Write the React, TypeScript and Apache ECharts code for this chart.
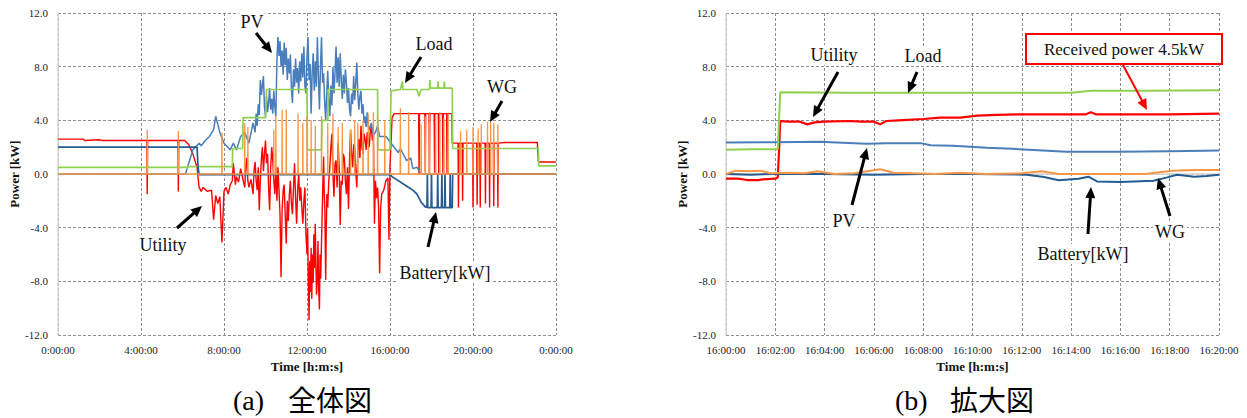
import React, { useEffect, useRef } from "react";
import * as echarts from "echarts";

// ---------- (a) whole day, x in hours ----------
const LEFT_X_TICKS = [0, 4, 8, 12, 16, 20, 24];
const Y_TICKS = [-12, -8, -4, 0, 4, 8, 12];

const LEFT_UTILITY: number[][] = [
  [0, 2.6], [1.2, 2.6], [1.3, 2.5], [2.0, 2.55], [2.1, 2.5], [4.28, 2.5], [4.3, -1.5], [4.32, 2.5],
  [5.78, 2.5], [5.8, -1.3], [5.82, 2.5], [6.1, 2.5], [6.3, 2.2], [6.5, 1.5], [6.7, 0.5], [6.8, -1.0],
  [6.9, -1.3], [7.0, -1.0], [7.2, -1.3], [7.4, -1.2], [7.5, -3.4], [7.6, -1.6], [7.7, -2.2], [7.8, -1.7],
  [7.9, -5.1], [8.0, -1.3], [8.1, -1.0], [8.2, -1.5], [8.3, -0.8], [8.4, -0.5], [8.45, 0.8], [8.5, 0.0],
  [8.55, -0.8], [8.6, -0.2], [8.7, -0.6], [8.8, 0.4], [8.9, -0.3], [9.0, -1.0], [9.05, 0.5], [9.1, 1.2],
  [9.15, -0.5], [9.2, -1.0], [9.3, -0.4], [9.4, -1.5], [9.45, 0.3], [9.5, 0.9], [9.55, -0.5], [9.6, -1.2],
  [9.65, 0.5], [9.7, -2.7], [9.75, -0.5], [9.8, 1.1], [9.85, 2.0], [9.9, 0.2], [9.95, 1.5], [10.0, 2.5],
  [10.05, 0.8], [10.1, 1.5], [10.15, -1.0], [10.2, -2.7], [10.25, 0.5], [10.3, 2.0], [10.35, 1.0],
  [10.4, -0.5], [10.45, -1.5], [10.5, 0.5], [10.55, -2.0], [10.6, 0.5], [10.65, -1.2], [10.7, -3.0],
  [10.75, -7.7], [10.8, -2.7], [10.85, -1.2], [10.9, -0.8], [10.95, -3.0], [11.0, -5.2], [11.05, -2.0],
  [11.1, -3.5], [11.15, -1.5], [11.2, -0.5], [11.25, -2.2], [11.3, -3.0], [11.35, -1.0], [11.4, 0.8],
  [11.45, -1.8], [11.5, -3.7], [11.55, -1.2], [11.6, 0.0], [11.65, -2.0], [11.7, -1.0], [11.75, -2.5],
  [11.8, -3.7], [11.85, -2.0], [11.9, -1.0], [11.95, -4.5], [12.0, -6.0], [12.03, -4.0], [12.06, -7.5],
  [12.1, -10.9], [12.13, -6.5], [12.16, -8.8], [12.2, -5.5], [12.23, -9.3], [12.26, -6.0], [12.3, -8.1],
  [12.33, -4.5], [12.36, -7.0], [12.4, -3.7], [12.43, -6.8], [12.46, -9.0], [12.5, -7.6], [12.53, -5.0],
  [12.56, -8.5], [12.6, -10.1], [12.63, -6.0], [12.66, -7.8], [12.7, -5.0], [12.73, -3.0], [12.76, -1.0],
  [12.8, 1.3], [12.83, -1.5], [12.86, -2.6], [12.9, -7.9], [12.93, -4.0], [12.96, -1.5], [13.0, -2.5],
  [13.05, -0.5], [13.1, 0.5], [13.15, 2.0], [13.2, 3.0], [13.25, 0.0], [13.3, -1.7], [13.35, 0.8],
  [13.4, 1.0], [13.45, -1.0], [13.5, 2.3], [13.55, 0.5], [13.6, -3.8], [13.65, -0.5], [13.7, -0.8],
  [13.75, 1.5], [13.8, 1.2], [13.85, -0.5], [13.9, -1.5], [13.95, 0.5], [14.0, -2.6], [14.05, 1.0],
  [14.1, 3.3], [14.15, 1.5], [14.2, 0.5], [14.25, 2.2], [14.3, 2.0], [14.35, 0.2], [14.4, -1.0],
  [14.45, 1.8], [14.5, 2.6], [14.55, 1.2], [14.6, 3.6], [14.65, 2.0], [14.7, 1.5], [14.75, 3.0],
  [14.8, 2.6], [14.85, 1.8], [14.9, 3.1], [14.95, 2.3], [15.0, 2.0], [15.05, 3.2], [15.1, 3.5],
  [15.15, 2.5], [15.2, 3.3], [15.25, -3.7], [15.3, -0.5], [15.35, -1.8], [15.4, -1.0], [15.45, -2.5],
  [15.5, -7.4], [15.55, -2.5], [15.6, -1.5], [15.7, -1.2], [15.8, -0.5], [15.9, -0.3], [15.95, -4.9],
  [16.0, 0.6], [16.1, 4.2], [16.2, 4.5], [17.38, 4.5], [17.4, 0.0], [17.42, 4.5], [17.68, 4.5], [17.7, 0.2],
  [17.72, 4.5], [17.88, 4.5], [17.9, 0.0], [17.92, 4.5], [18.13, 4.5], [18.15, 0.1], [18.17, 4.5],
  [18.33, 4.5], [18.35, 0.0], [18.37, 4.5], [18.53, 4.5], [18.55, 0.1], [18.57, 4.5], [18.73, 4.5],
  [18.75, 0.0], [18.77, 4.5], [18.98, 4.5], [19.0, 2.3], [19.28, 2.3], [19.3, -2.5], [19.32, 2.3],
  [19.48, 2.3], [19.5, -2.0], [19.52, 2.3], [19.98, 2.3], [20.0, -2.5], [20.02, 2.3], [20.18, 2.3],
  [20.2, -2.3], [20.22, 2.3], [20.33, 2.3], [20.35, -2.5], [20.37, 2.3], [20.58, 2.3], [20.6, -2.2],
  [20.62, 2.3], [20.78, 2.3], [20.8, -2.5], [20.82, 2.3], [20.98, 2.3], [21.0, -2.4], [21.02, 2.3],
  [21.18, 2.3], [21.2, -2.5], [21.22, 2.3], [21.5, 2.35], [23.1, 2.35], [23.15, 0.9], [24, 0.9],
];

const LEFT_PV: number[][] = [
  [0, 0], [6.15, 0], [6.2, 0.3], [6.5, 1.8], [6.8, 2.3], [6.9, 2.1], [7.1, 2.5], [7.3, 2.8], [7.5, 3.3],
  [7.6, 4.3], [7.8, 3.1], [8.0, 2.3], [8.3, 1.8], [8.45, 2.3], [8.6, 1.8], [8.8, 2.8], [9.0, 3.1],
  [9.2, 2.3], [9.4, 3.8], [9.5, 3.1], [9.55, 4.5], [9.6, 3.6], [9.65, 5.2], [9.7, 4.4], [9.75, 7.0],
  [9.8, 5.9], [9.85, 6.6], [9.9, 7.3], [9.95, 5.0], [10.0, 4.3], [10.05, 5.8], [10.1, 4.6], [10.15, 5.3],
  [10.2, 6.4], [10.25, 4.8], [10.3, 5.6], [10.35, 4.5], [10.4, 6.2], [10.45, 5.0], [10.5, 4.3],
  [10.55, 8.5], [10.6, 10.2], [10.65, 8.8], [10.7, 9.9], [10.75, 8.0], [10.8, 9.2], [10.85, 7.4],
  [10.9, 9.8], [10.95, 8.1], [11.0, 9.4], [11.05, 7.0], [11.1, 8.6], [11.15, 7.5], [11.2, 8.9],
  [11.25, 6.3], [11.3, 5.3], [11.35, 7.8], [11.4, 6.5], [11.45, 8.6], [11.5, 6.8], [11.55, 7.9],
  [11.6, 6.0], [11.65, 8.4], [11.7, 6.9], [11.75, 9.0], [11.8, 7.2], [11.85, 9.5], [11.9, 6.5],
  [11.95, 6.0], [12.0, 8.8], [12.05, 10.2], [12.1, 7.0], [12.15, 8.2], [12.2, 4.5], [12.25, 7.6],
  [12.3, 9.0], [12.35, 6.2], [12.4, 8.4], [12.45, 6.5], [12.5, 10.2], [12.55, 7.3], [12.6, 4.8],
  [12.65, 8.0], [12.7, 10.2], [12.75, 6.8], [12.8, 7.5], [12.85, 5.4], [12.9, 4.0], [12.95, 6.0],
  [13.0, 7.7], [13.05, 5.5], [13.1, 4.3], [13.15, 6.6], [13.2, 5.1], [13.25, 8.0], [13.3, 6.0],
  [13.35, 7.5], [13.4, 9.5], [13.45, 6.8], [13.5, 8.7], [13.55, 6.5], [13.6, 9.0], [13.65, 7.0],
  [13.7, 5.6], [13.75, 7.4], [13.8, 6.0], [13.85, 7.8], [13.9, 6.8], [13.95, 5.3], [14.0, 6.4],
  [14.05, 4.8], [14.1, 4.3], [14.15, 6.0], [14.2, 5.2], [14.25, 7.3], [14.3, 5.5], [14.35, 6.8],
  [14.4, 8.3], [14.45, 6.0], [14.5, 4.8], [14.55, 5.8], [14.6, 6.2], [14.65, 4.5], [14.7, 5.2],
  [14.75, 3.8], [14.8, 4.3], [14.85, 3.5], [14.9, 4.6], [14.95, 3.6], [15.0, 3.3], [15.1, 3.8],
  [15.2, 2.9], [15.3, 3.1], [15.4, 3.6], [15.5, 2.8], [15.8, 2.8], [16.0, 2.4], [16.2, 2.0],
  [16.4, 1.6], [16.5, 1.9], [16.8, 1.0], [17.0, 1.2], [17.1, 0.4], [17.3, 0.5], [17.5, 0.0], [24, 0],
];

const LEFT_LOAD: number[][] = [
  [0, 0.5], [6.2, 0.5], [6.22, 0.4], [6.25, 0.55], [8.4, 0.55], [8.42, 1.9], [8.9, 1.9], [8.92, 4.2],
  [10.0, 4.2], [10.05, 6.3], [12.0, 6.3], [12.02, 1.8], [12.7, 1.8], [12.72, 4.0], [13.0, 4.0],
  [13.02, 6.3], [15.4, 6.3], [15.42, 1.8], [16.0, 1.8], [16.05, 6.2], [16.5, 6.3], [16.6, 6.9],
  [16.62, 6.3], [17.3, 6.3], [17.4, 5.8], [17.5, 6.3], [17.9, 6.3], [17.92, 7.0], [17.94, 6.4],
  [18.3, 6.4], [18.32, 6.9], [18.34, 6.4], [18.6, 6.4], [18.62, 6.9], [18.64, 6.4], [19.0, 6.4],
  [19.02, 1.9], [23.15, 1.9], [23.17, 0.6], [24, 0.6],
];

const LEFT_BATTERY: number[][] = [
  [0, 2.0], [6.7, 2.0], [6.75, 0.5], [6.8, -0.05], [16.0, -0.05], [16.1, -0.2], [16.3, -0.4],
  [16.5, -0.6], [16.7, -0.8], [16.9, -1.0], [17.1, -1.2], [17.3, -1.5], [17.5, -2.1], [17.7, -2.45],
  [17.78, -2.5], [17.8, 0.0], [17.82, -2.5], [17.98, -2.5], [18.0, 0.0], [18.02, -2.5], [18.28, -2.5],
  [18.3, 0.0], [18.32, -2.5], [18.48, -2.5], [18.5, 0.0], [18.52, -2.5], [18.63, -2.5], [18.65, 0.0],
  [18.67, -2.5], [18.88, -2.5], [18.9, 0.0], [18.92, -2.5], [19.0, -2.5], [19.02, 0.0], [24, 0.0],
];

// [hour, peak] of the wind generator spikes
const LEFT_WG_SPIKES: number[][] = [
  [4.3, 3.3], [5.8, 3.2], [7.9, 3.1], [9.0, 3.8], [9.15, 3.5], [10.4, 3.3], [10.5, 4.3], [10.8, 4.8],
  [11.0, 4.8], [11.57, 4.5], [11.8, 3.8], [12.0, 4.3], [12.2, 4.0], [12.4, 3.6], [12.7, 4.3],
  [13.0, 3.8], [13.25, 4.5], [13.5, 3.5], [13.7, 3.8], [14.1, 3.3], [14.3, 4.0], [14.45, 3.8],
  [14.7, 4.0], [14.95, 4.5], [15.2, 4.6], [15.4, 4.5], [15.75, 4.0], [16.5, 4.9], [16.9, 4.6],
  [17.5, 3.7], [17.7, 4.3], [17.9, 4.6], [18.2, 4.4], [18.4, 4.6], [18.6, 4.2], [18.8, 4.5],
  [19.4, 3.2], [19.7, 3.3], [20.0, 3.5], [20.25, 3.4], [20.4, 3.7], [20.7, 3.9], [20.85, 3.9],
  [21.0, 3.8], [21.2, 3.7],
];

// ---------- (b) zoom 16:00-16:20, x in minutes ----------
const RIGHT_X_TICKS = [0, 2, 4, 6, 8, 10, 12, 14, 16, 18, 20];

const RIGHT_UTILITY: number[][] = [
  [0, -0.35], [0.5, -0.35], [0.85, -0.45], [1.3, -0.45], [1.5, -0.4], [2.0, -0.35], [2.1, -0.25],
  [2.15, 1.7], [2.2, 3.95], [2.5, 3.9], [3.0, 3.9], [3.3, 3.7], [3.6, 3.85], [4.0, 3.9], [5.0, 3.95],
  [5.5, 3.9], [6.0, 3.9], [6.25, 3.7], [6.5, 3.95], [7.0, 4.0], [8.0, 4.1], [8.7, 4.2], [9.5, 4.2],
  [10.2, 4.35], [11.0, 4.4], [11.8, 4.45], [13.0, 4.45], [14.6, 4.45], [14.8, 4.6], [15.0, 4.45],
  [17.0, 4.45], [18.0, 4.45], [20.0, 4.5],
];

const RIGHT_PV: number[][] = [
  [0, 2.35], [2.0, 2.37], [3.8, 2.4], [5.2, 2.3], [5.7, 2.25], [6.5, 2.3], [7.9, 2.3], [8.3, 2.15],
  [9.2, 2.1], [10.6, 1.95], [11.9, 1.85], [13.8, 1.65], [16.0, 1.65], [18.0, 1.7], [20.0, 1.75],
];

const RIGHT_LOAD: number[][] = [
  [0, 1.8], [1.0, 1.85], [2.1, 1.85], [2.2, 6.1], [5.0, 6.05], [8.0, 6.05], [11.0, 6.05],
  [14.0, 6.05], [14.8, 6.2], [17.0, 6.2], [20.0, 6.25],
];

const RIGHT_BATTERY: number[][] = [
  [0, 0.0], [1.0, -0.05], [2.0, 0.0], [4.0, 0.0], [6.0, -0.05], [8.0, 0.0], [10.0, 0.0],
  [12.2, -0.05], [12.9, -0.23], [13.5, -0.47], [14.3, -0.35], [14.7, -0.2], [15.05, -0.55],
  [16.0, -0.6], [17.35, -0.5], [17.9, -0.25], [18.3, -0.05], [19.0, -0.2], [19.5, -0.15], [20.0, -0.05],
];

const RIGHT_WG: number[][] = [
  [0, 0.0], [0.4, 0.25], [1.0, 0.2], [1.4, 0.25], [1.8, 0.05], [2.5, 0.1], [3.2, 0.05], [3.7, 0.2],
  [4.4, 0.0], [5.2, 0.05], [6.25, 0.35], [6.8, 0.1], [7.6, 0.05], [8.5, 0.0], [9.5, 0.1],
  [10.5, 0.0], [12.0, 0.05], [12.8, 0.2], [13.5, 0.0], [15.0, 0.0], [17.0, 0.0], [18.1, 0.25],
  [19.0, 0.3], [20.0, 0.3],
];

const C_PV = "#4a7ebb";
const C_LOAD = "#8fd14f";
const C_UTIL = "#ff0000";
const C_BATT = "#245b92";
const C_WG = "#f79646";

const SERIF = "Liberation Serif, Times New Roman, serif";
const CJK = "Noto Sans CJK JP, sans-serif";

function spikeLine(spikes: number[][], end: number): number[][] {
  const out: number[][] = [[0, 0]];
  spikes.forEach(([h, up]) => {
    out.push([h - 0.01, 0], [h, up], [h + 0.01, 0]);
  });
  out.push([end, 0]);
  return out;
}

function arrow(x1: number, y1: number, x2: number, y2: number, color = "#000", w = 3) {
  const dx = x2 - x1, dy = y2 - y1;
  const len = Math.sqrt(dx * dx + dy * dy);
  const ux = dx / len, uy = dy / len;
  const hl = 11, hw = 5;
  const bx = x2 - ux * hl, by = y2 - uy * hl;
  return [
    { type: "line", z: 100, shape: { x1, y1, x2: bx + ux * 2, y2: by + uy * 2 }, style: { stroke: color, lineWidth: w } },
    {
      type: "polygon", z: 100,
      shape: { points: [[x2, y2], [bx - uy * hw, by + ux * hw], [bx + uy * hw, by - ux * hw]] },
      style: { fill: color },
    },
  ];
}

function label(text: string, x: number, y: number, size = 18) {
  return {
    type: "text", z: 101, x, y,
    style: {
      text, fill: "#111", font: `${size}px ${SERIF}`, align: "center", verticalAlign: "middle",
      backgroundColor: "#fff", padding: [1, 2],
    },
  };
}

function lineSeries(name: string, data: number[][], color: string, idx: number, width: number) {
  return {
    name, type: "line", data, xAxisIndex: idx, yAxisIndex: idx, showSymbol: false, symbol: "none",
    lineStyle: { color, width }, itemStyle: { color }, silent: true,
  };
}

export default function App() {
  const ref = useRef<HTMLDivElement>(null);
  useEffect(() => {
    document.body.style.margin = "0";
    const chart = echarts.init(ref.current!, undefined, { renderer: "svg" });
    const axisLabel = { color: "#222", fontSize: 11, fontFamily: SERIF };
    const splitLine = { show: true, lineStyle: { color: "#8c8c8c", type: [3, 2] as any, width: 1 } };
    const axisLine = { show: true, lineStyle: { color: "#d9d9d9", width: 1.5 } };
    const nameStyle = { fontFamily: SERIF, fontWeight: "bold" as const, fontSize: 13, color: "#111" };
    const yAxis = (gi: number) => ({
      type: "value", gridIndex: gi, min: Y_TICKS[0], max: Y_TICKS[Y_TICKS.length - 1], interval: 4,
      axisLabel: { ...axisLabel, formatter: (v: number) => v.toFixed(1), margin: 10 },
      axisLine, axisTick: { show: false }, splitLine,
      name: "Power [kW]", nameLocation: "middle", nameGap: 34, nameTextStyle: nameStyle,
    });
    const option: any = {
      animation: false,
      backgroundColor: "#fff",
      grid: [
        { left: 58, top: 13, width: 498, height: 322 },
        { left: 726, top: 13, width: 493, height: 322 },
      ],
      xAxis: [
        {
          type: "value", gridIndex: 0, min: LEFT_X_TICKS[0], max: LEFT_X_TICKS[LEFT_X_TICKS.length - 1], interval: 4,
          axisLabel: { ...axisLabel, formatter: (v: number) => `${v % 24}:00:00`, margin: 9 },
          axisLine, axisTick: { show: false }, splitLine,
          name: "Time [h:m:s]", nameLocation: "middle", nameGap: 25, nameTextStyle: nameStyle,
        },
        {
          type: "value", gridIndex: 1, min: RIGHT_X_TICKS[0], max: RIGHT_X_TICKS[RIGHT_X_TICKS.length - 1], interval: 2,
          axisLabel: { ...axisLabel, formatter: (v: number) => `16:${String(v).padStart(2, "0")}:00`, margin: 9 },
          axisLine, axisTick: { show: false }, splitLine,
          name: "Time [h:m:s]", nameLocation: "middle", nameGap: 25, nameTextStyle: nameStyle,
        },
      ],
      yAxis: [yAxis(0), yAxis(1)],
      series: [
        lineSeries("Utility", LEFT_UTILITY, C_UTIL, 0, 1.4),
        lineSeries("PV", LEFT_PV, C_PV, 0, 1.5),
        lineSeries("Load", LEFT_LOAD, C_LOAD, 0, 1.7),
        lineSeries("Battery", LEFT_BATTERY, C_BATT, 0, 1.7),
        lineSeries("WG", spikeLine(LEFT_WG_SPIKES, 24), C_WG, 0, 1.3),
        lineSeries("Utility", RIGHT_UTILITY, C_UTIL, 1, 2.2),
        lineSeries("PV", RIGHT_PV, C_PV, 1, 2),
        lineSeries("Load", RIGHT_LOAD, C_LOAD, 1, 2),
        lineSeries("Battery", RIGHT_BATTERY, C_BATT, 1, 2),
        lineSeries("WG", RIGHT_WG, C_WG, 1, 2),
      ],
      graphic: [
        // (a)
        label("PV", 252, 22), ...arrow(256, 33, 272, 53),
        label("Load", 434, 44), ...arrow(421, 57, 405, 83),
        label("WG", 502, 87), ...arrow(502, 101, 490, 122),
        label("Utility", 163, 245), ...arrow(177, 228, 202, 206),
        label("Battery[kW]", 445, 273), ...arrow(428, 247, 436, 212),
        // (b)
        label("Utility", 834, 55), ...arrow(838, 72, 813, 117),
        label("Load", 923, 56), ...arrow(917, 72, 908, 93),
        {
          type: "rect", z: 100, shape: { x: 1026, y: 34, width: 196, height: 30 },
          style: { fill: "#fff", stroke: "#ff0000", lineWidth: 2 },
        },
        {
          type: "text", z: 101, x: 1124, y: 49,
          style: { text: "Received power 4.5kW", fill: "#111", font: `17px ${SERIF}`, align: "center", verticalAlign: "middle" },
        },
        ...arrow(1123, 65, 1147, 110, "#ff0000", 2),
        label("PV", 844, 221), ...arrow(852, 205, 867, 148),
        label("Battery[kW]", 1083, 254), ...arrow(1088, 234, 1091, 187),
        label("WG", 1170, 232), ...arrow(1170, 216, 1158, 178),
        // captions
        { type: "text", x: 233, y: 400, style: { text: "(a)", fill: "#000", font: `28px ${SERIF}`, verticalAlign: "middle" } },
        { type: "text", x: 288, y: 399, style: { text: "全体図", fill: "#000", font: `28px ${CJK}`, verticalAlign: "middle" } },
        { type: "text", x: 895, y: 400, style: { text: "(b)", fill: "#000", font: `28px ${SERIF}`, verticalAlign: "middle" } },
        { type: "text", x: 950, y: 399, style: { text: "拡大図", fill: "#000", font: `28px ${CJK}`, verticalAlign: "middle" } },
      ],
    };
    chart.setOption(option);
    return () => chart.dispose();
  }, []);
  return <div ref={ref} style={{ position: "fixed", left: 0, top: 0, width: 1247, height: 418 }} />;
}
